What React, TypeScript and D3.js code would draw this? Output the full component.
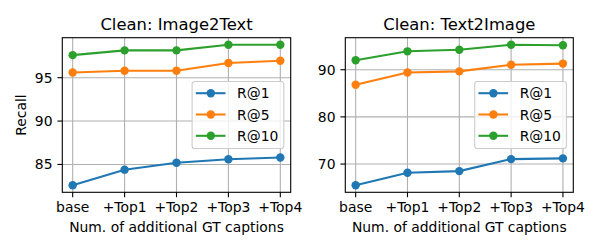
import React from 'react';
import * as d3 from 'd3';

// categorias do eixo x
const steps = ['base', '+Top1', '+Top2', '+Top3', '+Top4'];
const seriesNames = ['R@1', 'R@5', 'R@10'];
const seriesColors = ['#1f77b4', '#ff7f0e', '#2ca02c'];

// Image2Text
const i2tR1 = [82.6, 84.4, 85.2, 85.6, 85.8];
const i2tR5 = [95.6, 95.8, 95.8, 96.7, 96.95];
const i2tR10 = [97.6, 98.15, 98.15, 98.8, 98.8];
const i2tTicks = [85, 90, 95];

// Text2Image
const t2iR1 = [65.5, 68.15, 68.5, 71.05, 71.2];
const t2iR5 = [86.8, 89.4, 89.65, 91.05, 91.3];
const t2iR10 = [92.0, 93.9, 94.25, 95.3, 95.2];
const t2iTicks = [70, 80, 90];

const FONT = 'DejaVu Sans, sans-serif';

type PanelProps = {
  title: string;
  series: number[][];
  ticks: number[];
  left: number;
  right: number;
  showYLabel: boolean;
};

const Panel = ({ title, series, ticks, left, right, showYLabel }: PanelProps) => {
  const top = 37.7;
  const bottom = 192.3;

  const x = d3.scaleLinear().domain([-0.2, steps.length - 1 + 0.2]).range([left, right]);

  const all = series.flat();
  const [lo, hi] = d3.extent(all) as [number, number];
  const pad = (hi - lo) * 0.05;
  const y = d3.scaleLinear().domain([lo - pad, hi + pad]).range([bottom, top]);

  const line = d3.line<number>()
    .x((_, i) => x(i))
    .y(d => y(d));

  const legW = 91.7;
  const legH = 67;
  const legX = right - 6.9 - legW;
  const legY = (top + bottom) / 2 - legH / 2;

  return (
    <g>
      {/* grid */}
      {steps.map((s, i) => (
        <line key={s} x1={x(i)} x2={x(i)} y1={top} y2={bottom} stroke="#b0b0b0" strokeWidth={1.1} />
      ))}
      {ticks.map(t => (
        <line key={t} x1={left} x2={right} y1={y(t)} y2={y(t)} stroke="#b0b0b0" strokeWidth={1.1} />
      ))}

      {/* séries */}
      {series.map((s, k) => (
        <g key={k}>
          <path d={line(s) || ''} fill="none" stroke={seriesColors[k]} strokeWidth={2.08} />
          {s.map((v, i) => (
            <circle key={i} cx={x(i)} cy={y(v)} r={4.2} fill={seriesColors[k]} />
          ))}
        </g>
      ))}

      {/* moldura */}
      <rect x={left} y={top} width={right - left} height={bottom - top} fill="none" stroke="#000" strokeWidth={1.1} />

      {/* eixo x */}
      {steps.map((s, i) => (
        <g key={s}>
          <line x1={x(i)} x2={x(i)} y1={bottom} y2={bottom + 4.9} stroke="#000" strokeWidth={1.1} />
          <text x={x(i)} y={bottom + 19.7} textAnchor="middle" fontSize={13.9} fontFamily={FONT} fill="#000">{s}</text>
        </g>
      ))}
      <text x={(left + right) / 2} y={231.5} textAnchor="middle" fontSize={13.9} fontFamily={FONT} fill="#000">
        Num. of additional GT captions
      </text>

      {/* eixo y */}
      {ticks.map(t => (
        <g key={t}>
          <line x1={left - 4.9} x2={left} y1={y(t)} y2={y(t)} stroke="#000" strokeWidth={1.1} />
          <text x={left - 9.8} y={y(t)} dy="0.36em" textAnchor="end" fontSize={13.9} fontFamily={FONT} fill="#000">{t}</text>
        </g>
      ))}
      {showYLabel && (
        <text transform={`translate(26,${(top + bottom) / 2}) rotate(-90)`} textAnchor="middle" fontSize={13.9} fontFamily={FONT} fill="#000">
          Recall
        </text>
      )}

      <text x={(left + right) / 2} y={29.5} textAnchor="middle" fontSize={16.4} fontFamily={FONT} fill="#000">{title}</text>

      {/* legenda */}
      <rect x={legX} y={legY} width={legW} height={legH} rx={2.8} fill="#fff" fillOpacity={0.8} stroke="#cccccc" strokeWidth={1.1} />
      {seriesNames.map((n, k) => {
        const ly = legY + 11.7 + k * 21.3;
        return (
          <g key={n}>
            <line x1={legX + 3.7} x2={legX + 33.4} y1={ly} y2={ly} stroke={seriesColors[k]} strokeWidth={2.08} />
            <circle cx={legX + 18.7} cy={ly} r={4.2} fill={seriesColors[k]} />
            <text x={legX + 45} y={ly} dy="0.36em" fontSize={13.9} fontFamily={FONT} fill="#000">{n}</text>
          </g>
        );
      })}
    </g>
  );
};

const App = () => {
  return (
    <svg width={600} height={250} style={{ position: 'absolute', left: 0, top: 0, background: '#fff' }}>
      <rect width={600} height={250} fill="#fff" />
      <Panel title="Clean: Image2Text" series={[i2tR1, i2tR5, i2tR10]} ticks={i2tTicks} left={62.3} right={290.7} showYLabel />
      <Panel title="Clean: Text2Image" series={[t2iR1, t2iR5, t2iR10]} ticks={t2iTicks} left={345.3} right={573.3} showYLabel={false} />
    </svg>
  );
};

export default App;
